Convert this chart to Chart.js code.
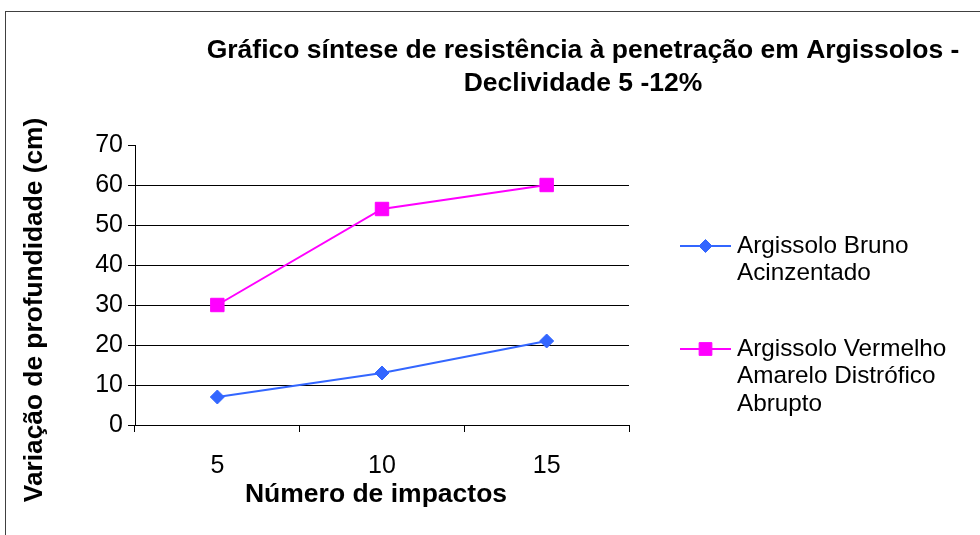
<!DOCTYPE html>
<html>
<head>
<meta charset="utf-8">
<script src="https://cdn.jsdelivr.net/npm/chart.js@4/dist/chart.umd.min.js"></script>
<style>
html,body{margin:0;padding:0;background:#fff;}
#wrap{width:980px;height:535px;position:relative;}
</style>
</head>
<body>
<div id="wrap"><canvas id="c" width="980" height="535"></canvas></div>
<script>
// ---- data ----
const categories = ['5', '10', '15'];
const brunoValues = [7, 13, 21];
const vermelhoValues = [30, 54, 60];
const seriesLabels = ['Argissolo Bruno Acinzentado', 'Argissolo Vermelho Amarelo Distrófico Abrupto'];
const legendLines = [['Argissolo Bruno', 'Acinzentado'], ['Argissolo Vermelho', 'Amarelo Distrófico', 'Abrupto']];
const titleLines = ['Gráfico síntese de resistência à penetração em Argissolos -', 'Declividade 5 -12%'];
const xTitle = 'Número de impactos';
const yTitle = 'Variação de profundidade (cm)';
const yMin = 0, yMax = 70, yStep = 10;

const FONT = '"Liberation Sans", Arial, sans-serif';

const decorPlugin = {
  id: 'decor',
  afterDraw(chart) {
    const ctx = chart.ctx;
    ctx.save();
    // outer border
    ctx.strokeStyle = '#404040';
    ctx.lineWidth = 1;
    ctx.strokeRect(5.5, 11.5, 1000, 600);
    // title
    ctx.fillStyle = '#000';
    ctx.textAlign = 'center';
    ctx.textBaseline = 'middle';
    ctx.font = 'bold 26.5px ' + FONT;
    ctx.fillText(titleLines[0], 583, 51);
    ctx.fillText(titleLines[1], 583, 84);
    // x title
    ctx.font = 'bold 26.5px ' + FONT;
    ctx.fillText(xTitle, 376, 495);
    // y title
    ctx.save();
    ctx.translate(35, 310);
    ctx.rotate(-Math.PI / 2);
    ctx.font = 'bold 26.3px ' + FONT;
    ctx.fillText(yTitle, 0, 0);
    ctx.restore();
    // legend
    const starts = [246, 349];
    const lh = 27.5;
    chart.data.datasets.forEach((ds, i) => {
      const y = starts[i];
      ctx.strokeStyle = ds.borderColor;
      ctx.lineWidth = 2;
      ctx.beginPath();
      ctx.moveTo(680, y);
      ctx.lineTo(731, y);
      ctx.stroke();
      ctx.fillStyle = ds.backgroundColor;
      ctx.lineWidth = 1;
      Chart.helpers.drawPoint(ctx, {pointStyle: ds.pointStyle, radius: ds.pointRadius - 0.5, rotation: 0, borderWidth: 1}, 705.5, y);
      ctx.fillStyle = '#000';
      ctx.textAlign = 'left';
      ctx.textBaseline = 'middle';
      ctx.font = '24.3px ' + FONT;
      legendLines[i].forEach((t, j) => ctx.fillText(t, 737, y + j * lh));
    });
    ctx.restore();
  }
};

new Chart(document.getElementById('c'), {
  type: 'line',
  data: {
    labels: categories,
    datasets: [
      {
        label: seriesLabels[0],
        data: brunoValues,
        borderColor: '#3366FF',
        backgroundColor: '#3366FF',
        borderWidth: 2,
        pointStyle: 'rectRot',
        pointRadius: 7,
        pointBorderWidth: 1,
        tension: 0
      },
      {
        label: seriesLabels[1],
        data: vermelhoValues,
        borderColor: '#FF00FF',
        backgroundColor: '#FF00FF',
        borderWidth: 2,
        pointStyle: 'rect',
        pointRadius: 9.5,
        pointBorderWidth: 1,
        tension: 0
      }
    ]
  },
  options: {
    responsive: false,
    animation: false,
    devicePixelRatio: 1,
    layout: { padding: { left: 0, top: 145, right: 351, bottom: 0 } },
    plugins: {
      legend: { display: false },
      title: { display: false },
      tooltip: { enabled: false }
    },
    scales: {
      x: {
        offset: true,
        afterFit(s) { s.height = 110; },
        grid: {
          offset: true,
          drawOnChartArea: false,
          drawTicks: true,
          tickLength: 7,
          color: '#000',
          tickColor: '#000'
        },
        border: { display: true, color: '#000', width: 1 },
        ticks: {
          color: '#000',
          font: { family: FONT, size: 25 },
          padding: 19
        }
      },
      y: {
        min: yMin,
        max: yMax,
        afterFit(s) { s.width = 135; },
        grid: {
          color: (c) => (c.tick && c.tick.value === yMax) ? 'rgba(0,0,0,0)' : '#000',
          tickColor: '#000',
          tickLength: 7,
          drawTicks: true
        },
        border: { display: true, color: '#000', width: 1 },
        ticks: {
          stepSize: yStep,
          color: '#000',
          font: { family: FONT, size: 25 },
          padding: 5
        }
      }
    }
  },
  plugins: [decorPlugin]
});
</script>
</body>
</html>
